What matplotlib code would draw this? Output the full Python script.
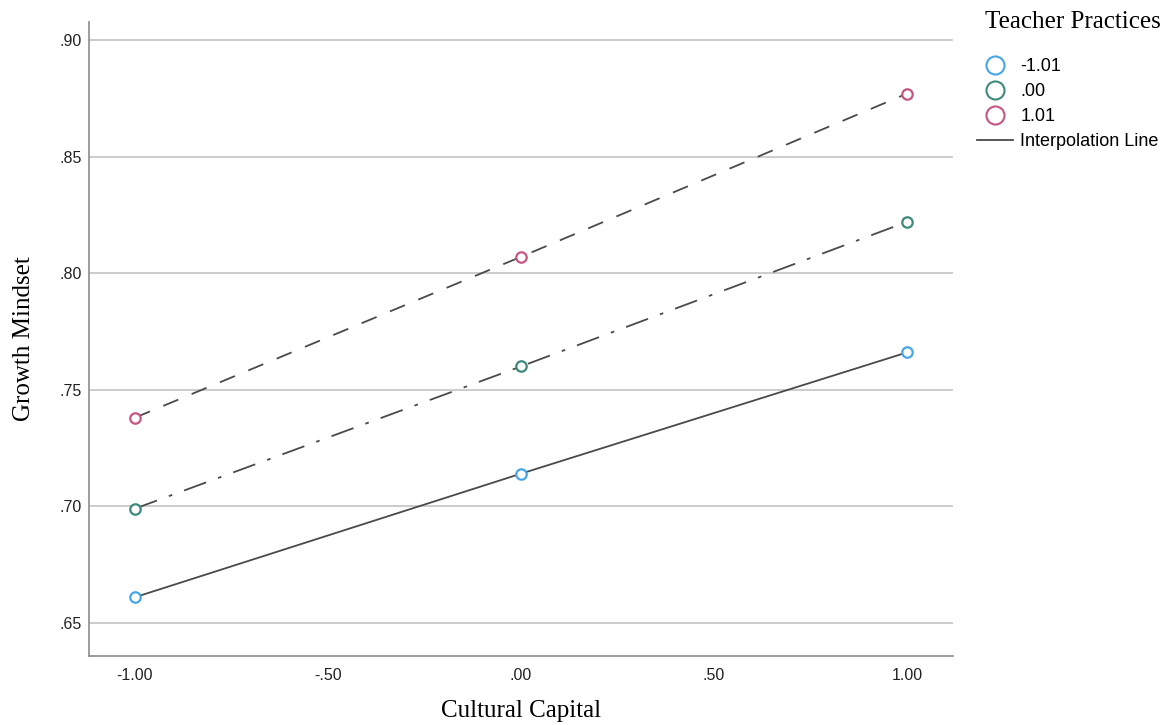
import matplotlib.pyplot as plt
from matplotlib.lines import Line2D
from matplotlib.ticker import FuncFormatter

# cultural capital levels on the x axis
cultural_capital = [-1.0, 0.0, 1.0]

# predicted growth mindset for each teacher practices level
teacher_levels = ["-1.01", ".00", "1.01"]
mindset_low = [0.661, 0.714, 0.766]
mindset_mid = [0.699, 0.760, 0.822]
mindset_high = [0.738, 0.807, 0.877]

y_ticks = [0.65, 0.70, 0.75, 0.80, 0.85, 0.90]
x_ticks = [-1.0, -0.5, 0.0, 0.5, 1.0]

colors = ["#47a6e6", "#3d8a7c", "#c55683"]
line_color = "#4a4a4a"
sans = "Liberation Sans"
serif = "Liberation Serif"


def spss_label(v, pos=None):
    # SPSS style: two decimals, no leading zero
    s = f"{v:.2f}"
    if s.startswith("0."):
        s = s[1:]
    elif s.startswith("-0."):
        s = "-" + s[2:]
    return s


fig = plt.figure(figsize=(11.74, 7.25), dpi=100)
ax = fig.add_axes([89 / 1174, 69 / 725, 864 / 1174, 634 / 725])

series = [mindset_low, mindset_mid, mindset_high]
styles = ["-", (0, (13, 7, 2, 7)), (0, (9, 8))]
for vals, col, ls in zip(series, colors, styles):
    ax.plot(cultural_capital, vals, color=line_color, linewidth=1.3,
            linestyle=ls, zorder=2)
    ax.plot(cultural_capital, vals, linestyle="none", marker="o",
            markersize=7.5, markerfacecolor="white", markeredgecolor=col,
            markeredgewidth=1.6, zorder=3)

ax.set_xlim(-1.119, 1.119)
ax.set_ylim(0.6358, 0.9077)
ax.set_xticks(x_ticks)
ax.set_yticks(y_ticks)
ax.xaxis.set_major_formatter(FuncFormatter(spss_label))
ax.yaxis.set_major_formatter(FuncFormatter(spss_label))
ax.tick_params(length=0, labelsize=11.5, colors="#222222")
ax.tick_params(axis="y", pad=5)
ax.tick_params(axis="x", pad=9)
for lbl in ax.get_xticklabels() + ax.get_yticklabels():
    lbl.set_fontfamily(sans)

ax.grid(axis="y", color="#c4c4c4", linewidth=1.2)
ax.set_axisbelow(True)
for side in ["top", "right"]:
    ax.spines[side].set_visible(False)
for side in ["left", "bottom"]:
    ax.spines[side].set_color("#8c8c8c")
    ax.spines[side].set_linewidth(1.2)

ax.set_xlabel("Cultural Capital", fontfamily=serif, fontsize=18, labelpad=12)
ax.set_ylabel("Growth Mindset", fontfamily=serif, fontsize=18, labelpad=18)

# legend: serif title placed on its own, entries below it
fig.text(985 / 1174, 1 - 22 / 725, "Teacher Practices", fontfamily=serif,
         fontsize=18, ha="left", va="center")

handles = [
    Line2D([], [], linestyle="none", marker="o", markersize=13,
           markerfacecolor="white", markeredgecolor=c, markeredgewidth=1.5)
    for c in colors
]
handles.append(Line2D([], [], color=line_color, linewidth=1.3))
labels = teacher_levels + ["Interpolation Line"]

fig.legend(handles, labels, loc="upper left",
           bbox_to_anchor=(977 / 1174, 1 - 58 / 725),
           frameon=False, prop={"family": sans, "size": 13},
           handlelength=2.0, handletextpad=0.4, labelspacing=0.45,
           borderaxespad=0, borderpad=0)

fig.savefig("out.png", dpi=100)
